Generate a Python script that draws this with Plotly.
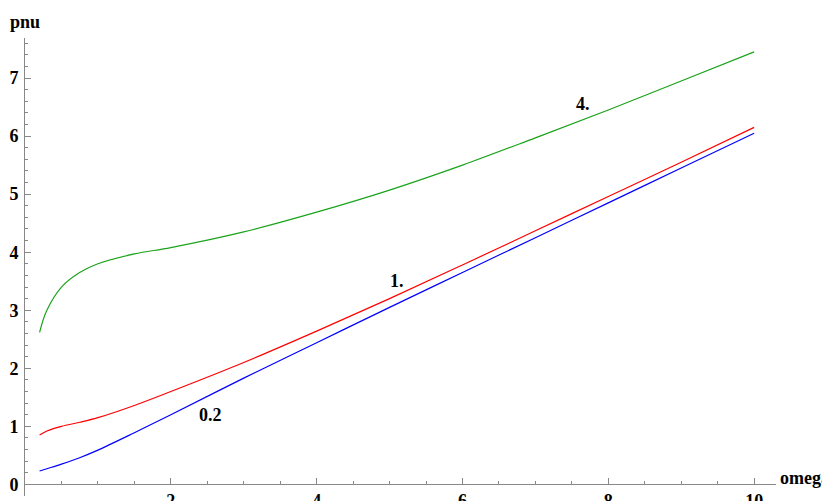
import plotly.graph_objects as go

x_pts = [0.2, 0.3, 0.5, 0.75, 1, 1.5, 2, 3, 4, 5, 6, 7, 8, 9, 10]
y_02 = [0.23, 0.27, 0.35, 0.46, 0.59, 0.89, 1.2, 1.83, 2.44, 3.05, 3.65, 4.25, 4.85, 5.45, 6.05]
y_1 = [0.85, 0.92, 1.0, 1.07, 1.15, 1.36, 1.6, 2.1, 2.64, 3.2, 3.78, 4.37, 4.96, 5.55, 6.15]
y_4 = [2.62, 3.0, 3.4, 3.65, 3.8, 3.97, 4.08, 4.35, 4.69, 5.07, 5.5, 5.97, 6.45, 6.95, 7.45]
labels = ["0.2", "1.", "4."]
label_pos = [(2.55, 1.2), (5.1, 3.5), (7.65, 6.55)]
x_ticks = [2, 4, 6, 8, 10]
y_ticks = [0, 1, 2, 3, 4, 5, 6, 7]

fig = go.Figure()
for ys, c in [(y_02, "blue"), (y_1, "red"), (y_4, "#1aa31a")]:
    fig.add_trace(go.Scatter(x=x_pts, y=ys, mode="lines", line=dict(color=c, width=1.2, shape="spline", smoothing=1.0), showlegend=False))

font = dict(family="Liberation Serif", size=18, color="black")
for t, (lx, ly) in zip(labels, label_pos):
    fig.add_annotation(x=lx, y=ly, text="<b>%s</b>" % t, showarrow=False, font=font)
fig.add_annotation(x=1, xref="paper", y=0, yref="y", text="<b>omega</b>", showarrow=False,
                   xanchor="left", xshift=2, yshift=6, font=font)
fig.add_annotation(x=0, xref="x", y=1, yref="paper", text="<b>pnu</b>", showarrow=False,
                   xanchor="center", yanchor="bottom", yshift=4, font=font)

ymin, ymax = -0.2, 7.69
fig.update_layout(
    width=830, height=501, margin=dict(l=17, r=62, t=30, b=13),
    plot_bgcolor="white", paper_bgcolor="white",
    xaxis=dict(range=[0, 10.3], tickvals=x_ticks, ticktext=["<b>%d</b>" % v for v in x_ticks],
               ticks="inside", ticklen=6, tickcolor="#888", showgrid=False, zeroline=False,
               showline=True, linecolor="#888", anchor="free", position=(0 - ymin) / (ymax - ymin),
               tickfont=font, automargin=False,
               minor=dict(dtick=0.5, ticks="inside", ticklen=3, tickcolor="#888")),
    yaxis=dict(range=[ymin, ymax], tickvals=y_ticks, ticktext=["<b>%d</b>" % v for v in y_ticks],
               ticks="inside", ticklen=6, tickcolor="#888", showgrid=False, zeroline=False,
               showline=True, linecolor="#888", tickfont=font, automargin=False, ticklabelstandoff=2,
               minor=dict(dtick=0.2, ticks="inside", ticklen=3, tickcolor="#888")),
)
fig.write_html("out.html")
